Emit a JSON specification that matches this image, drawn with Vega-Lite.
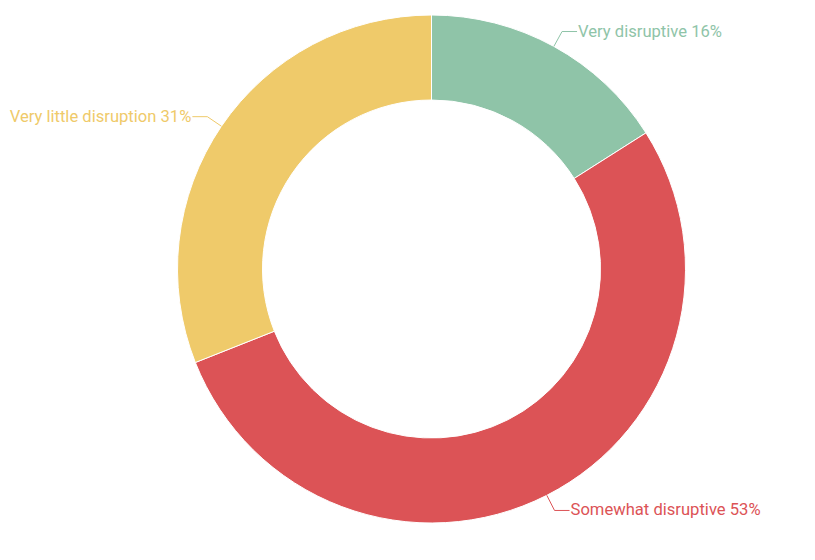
{
  "$schema": "https://vega.github.io/schema/vega-lite/v6.json",
  "autosize": "none",
  "width": 767,
  "height": 538,
  "padding": {"left": 48, "top": 0, "right": 0, "bottom": 22},
  "background": "white",
  "config": {"view": {"stroke": null}, "text": {"font": "Roboto"}},
  "data": {
    "values": [
      {"category": "Very disruptive", "value": 16, "order": 1},
      {"category": "Somewhat disruptive", "value": 53, "order": 2},
      {"category": "Very little disruption", "value": 31, "order": 3}
    ]
  },
  "transform": [
    {"window": [{"op": "sum", "field": "value", "as": "cum"}], "sort": [{"field": "order"}], "frame": [null, 0]},
    {"calculate": "(datum.cum - datum.value / 2) / 100 * 2 * PI", "as": "mid"},
    {"calculate": "254 * sin(datum.mid)", "as": "x0"},
    {"calculate": "254 * cos(datum.mid)", "as": "y0"},
    {"calculate": "271 * sin(datum.mid)", "as": "x1"},
    {"calculate": "271 * cos(datum.mid)", "as": "y1"},
    {"calculate": "datum.x1 + (sin(datum.mid) >= 0 ? 15 : -15)", "as": "x2"},
    {"calculate": "datum.x2 + (sin(datum.mid) >= 0 ? 1 : -1)", "as": "xt"},
    {"calculate": "datum.category + ' ' + datum.value + '%'", "as": "label"}
  ],
  "layer": [
    {
      "mark": {"type": "arc", "outerRadius": 254, "innerRadius": 169, "stroke": "white", "strokeWidth": 1},
      "encoding": {
        "theta": {"field": "value", "type": "quantitative", "stack": true},
        "order": {"field": "order", "type": "quantitative"},
        "color": {
          "field": "category", "type": "nominal", "legend": null,
          "scale": {
            "domain": ["Very disruptive", "Somewhat disruptive", "Very little disruption"],
            "range": ["#8fc4a8", "#dc5356", "#efca6a"]
          }
        }
      }
    },
    {
      "mark": {"type": "rule", "strokeWidth": 1},
      "encoding": {
        "x": {"field": "x0", "type": "quantitative", "scale": {"domain": [-383.5, 383.5], "nice": false, "zero": false}, "axis": null},
        "y": {"field": "y0", "type": "quantitative", "scale": {"domain": [-269, 269], "nice": false, "zero": false}, "axis": null},
        "x2": {"field": "x1"},
        "y2": {"field": "y1"},
        "color": {"field": "category", "type": "nominal", "legend": null}
      }
    },
    {
      "mark": {"type": "rule", "strokeWidth": 1},
      "encoding": {
        "x": {"field": "x1", "type": "quantitative", "axis": null},
        "y": {"field": "y1", "type": "quantitative", "axis": null},
        "x2": {"field": "x2"},
        "color": {"field": "category", "type": "nominal", "legend": null}
      }
    },
    {
      "transform": [{"filter": "sin(datum.mid) >= 0"}],
      "mark": {"type": "text", "align": "left", "baseline": "middle", "fontSize": 16.6},
      "encoding": {
        "x": {"field": "xt", "type": "quantitative", "axis": null},
        "y": {"field": "y1", "type": "quantitative", "axis": null},
        "text": {"field": "label"},
        "color": {"field": "category", "type": "nominal", "legend": null}
      }
    },
    {
      "transform": [{"filter": "sin(datum.mid) < 0"}],
      "mark": {"type": "text", "align": "right", "baseline": "middle", "fontSize": 16.6},
      "encoding": {
        "x": {"field": "xt", "type": "quantitative", "axis": null},
        "y": {"field": "y1", "type": "quantitative", "axis": null},
        "text": {"field": "label"},
        "color": {"field": "category", "type": "nominal", "legend": null}
      }
    }
  ]
}
